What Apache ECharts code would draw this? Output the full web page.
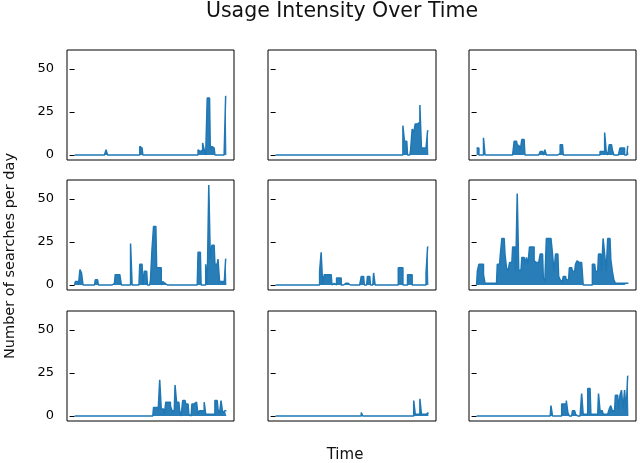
<!DOCTYPE html>
<html>
<head>
<meta charset="utf-8">
<script src="https://cdn.jsdelivr.net/npm/echarts@6/dist/echarts.min.js"></script>
<style>
html,body{margin:0;padding:0;background:#fff;}
#chart{width:640px;height:463px;}
</style>
</head>
<body>
<div id="chart"></div>
<script>
// ---- data (searches per day, 100 time steps per panel) ----
const yTicks = [0, 25, 50];
const panelR1C1 = [
  0,0,0,0,0,0,0,0,0,0,
  0,0,0,0,0,0,0,0,0,0,
  0,3,0,0,0,0,0,0,0,0,
  0,0,0,0,0,0,0,0,0,0,
  0,0,0,5,4,0,0,0,0,0,
  0,0,0,0,0,0,0,0,0,0,
  0,0,0,0,0,0,0,0,0,0,
  0,0,0,0,0,0,0,0,0,0,
  0,3,2,3,7,3,0,33,33,3,
  5,4,0,0,0,0,0,0,0,34];
const panelR1C2 = [
  0,0,0,0,0,0,0,0,0,0,
  0,0,0,0,0,0,0,0,0,0,
  0,0,0,0,0,0,0,0,0,0,
  0,0,0,0,0,0,0,0,0,0,
  0,0,0,0,0,0,0,0,0,0,
  0,0,0,0,0,0,0,0,0,0,
  0,0,0,0,0,0,0,0,0,0,
  0,0,0,0,0,0,0,0,0,0,
  0,0,0,17,8,8,0,0,3,15,
  13,18,18,19,29,4,4,4,3,14];
const panelR1C3 = [
  4,4,0,0,0,10,0,0,0,0,
  0,0,0,0,0,0,0,0,0,0,
  0,0,0,0,0,8,8,6,5,3,
  9,9,0,0,0,0,0,0,0,0,
  0,0,2,2,0,3,0,0,0,0,
  0,0,0,0,1,6,6,0,0,0,
  0,0,0,0,0,0,0,0,0,0,
  0,0,0,0,0,0,0,0,0,0,
  0,2,2,2,13,2,0,6,6,3,
  0,0,0,0,4,4,4,0,0,5];
const panelR2C1 = [
  0,2,2,0,9,7,0,0,0,0,
  0,0,0,0,3,3,0,0,0,0,
  0,0,0,0,0,0,1,6,6,6,
  6,0,0,0,0,0,0,24,0,0,
  0,0,0,12,12,0,8,8,0,0,
  3,21,34,34,10,10,10,0,2,1,
  0,0,0,0,0,0,0,0,0,0,
  0,0,0,0,0,0,0,0,0,0,
  0,19,19,0,0,0,12,0,58,15,
  23,23,12,12,15,2,2,2,0,15];
const panelR2C2 = [
  0,0,0,0,0,0,0,0,0,0,
  0,0,0,0,0,0,0,0,0,0,
  0,0,0,0,0,0,0,0,0,8,
  19,0,6,6,6,6,6,0,1,0,
  4,4,4,0,0,1,1,1,0,0,
  0,0,0,0,0,0,5,5,0,0,
  5,5,0,0,7,0,0,0,0,0,
  0,0,0,0,0,0,0,0,0,0,
  10,10,10,0,0,0,6,6,6,0,
  0,0,0,0,0,0,0,0,7,22];
const panelR2C3 = [
  0,8,12,12,12,6,1,1,1,1,
  1,1,1,1,12,12,18,27,27,18,
  10,8,13,13,22,22,8,53,8,9,
  16,16,12,16,12,22,22,22,14,13,
  13,13,18,18,4,2,27,27,27,27,
  18,8,18,18,5,3,2,5,5,3,
  3,10,10,8,8,12,14,13,13,13,
  0,0,0,0,0,0,12,12,8,8,
  18,18,8,27,18,8,27,27,15,8,
  3,1,1,1,1,1,1,1,1,1];
const panelR3C1 = [
  0,0,0,0,0,0,0,0,0,0,
  0,0,0,0,0,0,0,0,0,0,
  0,0,0,0,0,0,0,0,0,0,
  0,0,0,0,0,0,0,0,0,0,
  0,0,0,0,0,0,0,0,0,0,
  0,0,5,5,5,3,21,4,4,1,
  8,8,8,6,3,3,18,8,8,3,
  0,9,9,7,7,1,0,7,7,8,
  8,1,3,3,3,8,1,1,1,1,
  1,1,9,9,4,1,9,2,3,3];
const panelR3C2 = [
  0,0,0,0,0,0,0,0,0,0,
  0,0,0,0,0,0,0,0,0,0,
  0,0,0,0,0,0,0,0,0,0,
  0,0,0,0,0,0,0,0,0,0,
  0,0,0,0,0,0,0,0,0,0,
  0,0,0,0,0,0,2,0,0,0,
  0,0,0,0,0,0,0,0,0,0,
  0,0,0,0,0,0,0,0,0,0,
  0,0,0,0,0,0,0,0,0,0,
  9,1,1,1,10,1,1,1,1,2];
const panelR3C3 = [
  0,0,0,0,0,0,0,0,0,0,
  0,0,0,0,0,0,0,0,0,0,
  0,0,0,0,0,0,0,0,0,0,
  0,0,0,0,0,0,0,0,0,0,
  0,0,0,0,0,0,0,0,0,6,
  0,0,0,0,0,0,7,7,7,9,
  2,0,0,3,3,1,0,0,0,13,
  1,1,1,16,16,1,1,1,1,1,
  13,3,3,1,1,1,1,4,6,3,
  3,12,12,4,12,15,4,15,3,23];

const panels = [
  panelR1C1, panelR1C2, panelR1C3,
  panelR2C1, panelR2C2, panelR2C3,
  panelR3C1, panelR3C2, panelR3C3
];

// ---- layout ----
const colLeft = [67, 268, 469];
const colWidth = [167, 168, 167];
const rowTop = [50, 180, 311];
const rowHeight = 110;
const yMin = -2.9, yMax = 60.9;

const grids = [], xAxes = [], yAxes = [], series = [];
panels.forEach((vals, k) => {
  const r = Math.floor(k / 3), c = k % 3;
  const n = vals.length - 1;
  grids.push({
    left: colLeft[c], top: rowTop[r], width: colWidth[c], height: rowHeight,
    show: true, borderColor: '#000', borderWidth: 1, backgroundColor: 'transparent'
  });
  xAxes.push({
    type: 'value', gridIndex: k, min: -0.05 * n, max: 1.05 * n,
    axisLine: {show: false}, axisTick: {show: false},
    axisLabel: {show: false}, splitLine: {show: false}
  });
  yAxes.push({
    type: 'value', gridIndex: k, min: yMin, max: yMax,
    axisLine: {show: false},
    axisTick: {show: true, length: 5, customValues: yTicks, lineStyle: {color: '#000', width: 1}},
    axisLabel: {show: c === 0, customValues: yTicks, color: '#000', fontSize: 13,
                fontFamily: 'DejaVu Sans', margin: 13},
    splitLine: {show: false}
  });
  series.push({
    type: 'line', xAxisIndex: k, yAxisIndex: k,
    data: vals.map((v, i) => [i, v]),
    step: 'middle',
    showSymbol: false, symbol: 'none', clip: true, animation: false,
    lineStyle: {color: '#1f77b4', width: 1.5},
    areaStyle: {color: '#1f77b4', opacity: 0.95},
    emphasis: {disabled: true}
  });
});

const chart = echarts.init(document.getElementById('chart'), null, {renderer: 'canvas'});
chart.setOption({
  animation: false,
  backgroundColor: '#fff',
  grid: grids, xAxis: xAxes, yAxis: yAxes, series: series,
  graphic: [
    {type: 'text', x: 342, y: 12, style: {text: 'Usage Intensity Over Time', fill: '#111',
      font: '20.5px "DejaVu Sans"', textAlign: 'center', textVerticalAlign: 'middle'}},
    {type: 'text', x: 345, y: 455, style: {text: 'Time', fill: '#111',
      font: '15px "DejaVu Sans"', textAlign: 'center', textVerticalAlign: 'middle'}},
    {type: 'text', x: 10, y: 256, rotation: Math.PI / 2, style: {text: 'Number of searches per day', fill: '#111',
      font: '14.5px "DejaVu Sans"', textAlign: 'center', textVerticalAlign: 'middle'}}
  ]
});
</script>
</body>
</html>
